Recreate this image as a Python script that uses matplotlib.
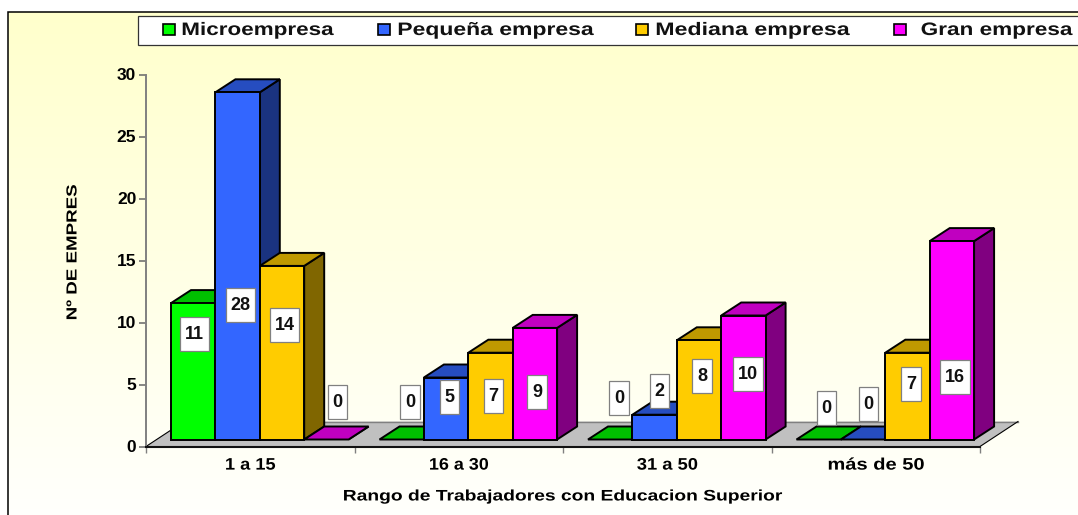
import numpy as np
import matplotlib
matplotlib.use("Agg")
import matplotlib.pyplot as plt
from matplotlib.patches import Polygon, Rectangle
from matplotlib.patheffects import AbstractPathEffect
from matplotlib.textpath import TextPath
from matplotlib.font_manager import FontProperties
from matplotlib.transforms import Affine2D

# ---- data ----
categories = ["1 a 15", "16 a 30", "31 a 50", "más de 50"]
series_names = ["Microempresa", "Pequeña empresa", "Mediana empresa", "Gran empresa"]
microempresa = [11, 0, 0, 0]
pequena = [28, 5, 2, 0]
mediana = [14, 7, 8, 7]
gran = [0, 9, 10, 16]
y_ticks = [0, 5, 10, 15, 20, 25, 30]
x_title = "Rango de Trabajadores con Educacion Superior"
y_title = "Nº DE EMPRES"

# ---- style ----
W, H, DPI = 1078, 515, 100
FONT = "Liberation Sans"
front = ["#00FF00", "#3366FF", "#FFCC00", "#FF00FF"]
top = ["#00C000", "#264DC0", "#BF9900", "#C000C0"]
side = ["#008000", "#1A3380", "#806600", "#800080"]
# value-label boxes in image pixels: left, right, top of box (per series, per category)
label_boxes = [
    [(180, 209, 317), (400, 420, 385), (609, 629, 381), (817, 836, 391)],
    [(226, 255, 288), (440, 459, 380), (650, 669, 374), (859, 878, 387)],
    [(270, 299, 308), (484, 503, 379), (692, 712, 359), (901, 921, 367)],
    [(328, 347, 385), (527, 547, 375), (733, 763, 357), (940, 970, 360)],
]
LABEL_H = 34
legend_marks = [163, 378, 636, 894]
legend_text = [(182, 333), (398, 593), (656, 849), (921, 1072)]
cat_label_w = [49, 58, 60, 95]


class Stretch(AbstractPathEffect):
    """Widen glyphs along the baseline, about the centre of the text."""
    def __init__(self, sx):
        super().__init__()
        self.sx = sx

    def draw_path(self, renderer, gc, tpath, affine, rgbFace=None):
        e = tpath.get_extents()
        c = (e.x0 + e.x1) / 2
        extra = Affine2D().translate(-c, 0).scale(self.sx, 1).translate(c, 0)
        renderer.draw_path(gc, tpath, extra + affine, rgbFace)


def fit(s, size, target_px):
    fp = FontProperties(family=FONT, weight="bold")
    w = TextPath((0, 0), s, size=size, prop=fp).get_extents().width * DPI / 72
    return [Stretch(target_px / w)]


plt.rcParams["font.family"] = [FONT, "DejaVu Sans"]
plt.rcParams["font.weight"] = "bold"
fig = plt.figure(figsize=(W / DPI, H / DPI), dpi=DPI, facecolor="white")

# background panel, in image pixels
bg = fig.add_axes([0, 0, 1, 1], zorder=0)
bg.set_xlim(0, W)
bg.set_ylim(H, 0)
bg.axis("off")
grad = np.linspace(0, 1, 256)[:, None]
rgb = np.dstack([np.ones_like(grad), np.ones_like(grad), 0.80 + 0.19 * grad])
bg.imshow(rgb, extent=(8, W, H, 12), aspect="auto", zorder=0)
bg.set_xlim(0, W)
bg.set_ylim(H, 0)
bg.plot([8, 8, W], [H, 12, 12], color="black", lw=1.1, zorder=1, solid_joinstyle="miter")

# main axes
X0, X1, Y0, Y30 = 146.0, 980.0, 446.5, 74.5
ax = fig.add_axes([X0 / W, 1 - Y0 / H, (X1 - X0) / W, (Y0 - Y30) / H], zorder=1)
ax.patch.set_alpha(0)
ax.set_xlim(0, len(categories))
ax.set_ylim(0, 30)
for s in ["top", "right"]:
    ax.spines[s].set_visible(False)
ax.spines["left"].set(color="#808080", lw=1.4)
ax.spines["bottom"].set(color="#111111", lw=1.5, zorder=3)
ax.set_yticks(y_ticks)
ax.set_yticklabels([str(v) for v in y_ticks], fontsize=12.5, fontweight="bold")
ax.tick_params(axis="y", length=5, width=1.1, color="#666666", pad=2)
ax.set_xticks(range(len(categories) + 1))
ax.set_xticklabels([])
ax.tick_params(axis="x", which="major", length=4.5, width=1, color="#808080")
ax.set_xticks(np.arange(len(categories)) + 0.5, minor=True)
ax.set_xticklabels(categories, minor=True, fontsize=12, fontweight="bold")
ax.tick_params(axis="x", which="minor", length=0, pad=8)
for t, w in zip(ax.get_xticklabels(minor=True), cat_label_w):
    t.set_path_effects(fit(t.get_text(), 12, w))
ax.set_xlabel(x_title, fontsize=11, fontweight="bold")
ax.xaxis.set_label_coords(0.5, -(496.5 - Y0) / (Y0 - Y30), )
ax.xaxis.label.set_va("center")
ax.xaxis.label.set_path_effects(fit(x_title, 11, 438))
ax.set_ylabel(y_title, fontsize=10.5, fontweight="bold")
ax.yaxis.set_label_coords(-(X0 - 72.5) / (X1 - X0), (Y0 - 252) / (Y0 - Y30))
ax.yaxis.label.set_va("center")
ax.yaxis.label.set_path_effects(fit(y_title, 10.5, 134))

# floor, in axis units
fdx, fdy = 38 / 208.5, 25 / 12.4
n = len(categories)
ax.add_patch(Polygon([(0, 0), (n, 0), (n + fdx, fdy), (fdx, fdy)], closed=True,
                     fc="#C0C0C0", ec="none", clip_on=False, zorder=1))
ax.plot([fdx, n + fdx], [fdy, fdy], color="#808080", lw=1, clip_on=False, zorder=1.1)
ax.plot([0, fdx], [0, fdy], color="black", lw=0.8, clip_on=False, zorder=1.1)
ax.plot([n, n + fdx], [0, fdy], color="black", lw=0.8, clip_on=False, zorder=1.1)

# bars with depth
GROUP_PAD, BW = 25 / 208.5, 44.4 / 208.5
BASE = 7 / 12.4
DX, DY = 20 / 208.5, 13 / 12.4
EDGE = dict(ec="black", lw=1.4, joinstyle="miter", clip_on=False)
series = [microempresa, pequena, mediana, gran]
z = 2.0
for c in range(n):
    for k, vals in enumerate(series):
        v = vals[c]
        x = c + GROUP_PAD + k * BW
        y1 = BASE + v
        ax.add_patch(Polygon([(x + BW, BASE), (x + BW + DX, BASE + DY),
                              (x + BW + DX, y1 + DY), (x + BW, y1)],
                             closed=True, fc=side[k], zorder=z, **EDGE))
        ax.add_patch(Polygon([(x, y1), (x + BW, y1), (x + BW + DX, y1 + DY), (x + DX, y1 + DY)],
                             closed=True, fc=top[k], zorder=z + 0.01, **EDGE))
        if v > 0:
            ax.add_patch(Rectangle((x, BASE), BW, v, fc=front[k], zorder=z + 0.02, **EDGE))
        z += 0.1

# overlay in image pixels: value labels and legend
ov = fig.add_axes([0, 0, 1, 1], zorder=2)
ov.patch.set_alpha(0)
ov.set_xlim(0, W)
ov.set_ylim(H, 0)
ov.axis("off")
for k, vals in enumerate(series):
    for c, v in enumerate(vals):
        l, r, t = label_boxes[k][c]
        ov.add_patch(Rectangle((l, t), r - l, LABEL_H, fc="white", ec="#808080", lw=0.9))
        ov.text((l + r) / 2, t + LABEL_H / 2 + 0.5, str(v), ha="center", va="center",
                fontsize=13, fontweight="bold", color="#111111")

ov.add_patch(Rectangle((137.5, 16), W, 29, fc="white", ec="#333333", lw=0.9, clip_on=True))
for name, mx, (tl, tr), col in zip(series_names, legend_marks, legend_text, front):
    ov.add_patch(Rectangle((mx, 24), 12, 11, fc=col, ec="black", lw=1.2, joinstyle="miter"))
    ov.text((tl + tr) / 2, 35, name, ha="center", va="baseline", fontsize=13,
            fontweight="bold", color="#111111", path_effects=fit(name, 13, tr - tl))

fig.savefig("out.png", dpi=DPI, facecolor="white")
